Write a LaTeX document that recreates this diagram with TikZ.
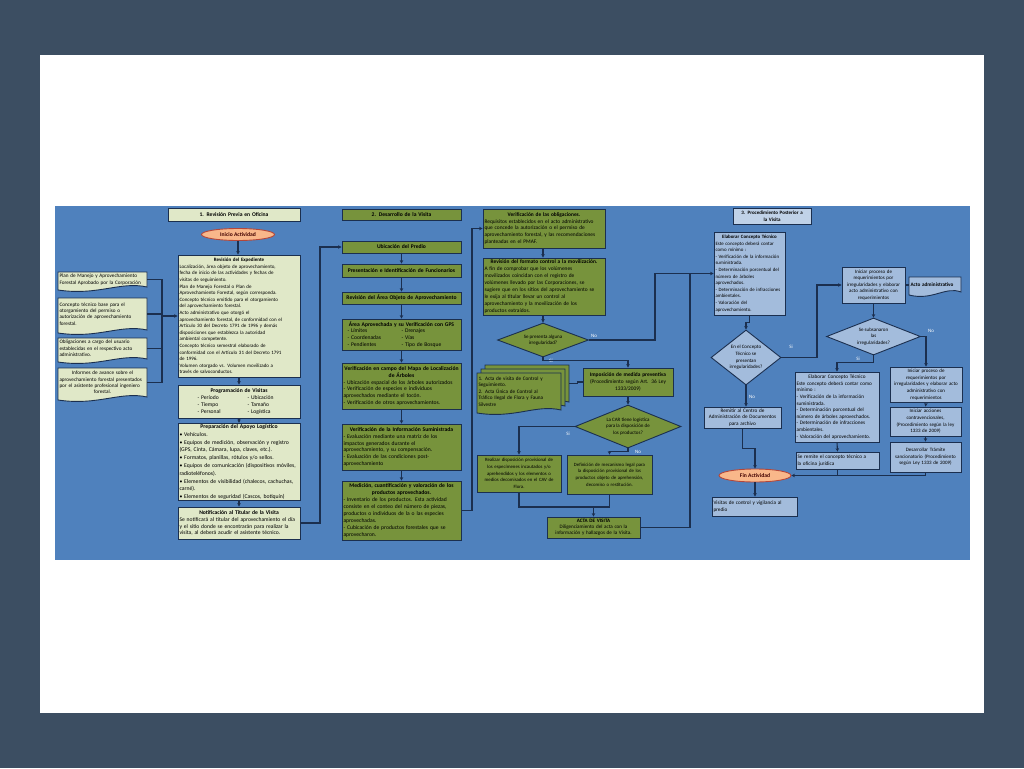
\documentclass[tikz,border=0pt]{standalone}
\usepackage{fontspec}
\setmainfont{Carlito}
\usetikzlibrary{shapes.geometric,arrows.meta,calc}
\hyphenpenalty=10000
\exhyphenpenalty=10000
\definecolor{outerc}{HTML}{3C4E62}
\definecolor{bluec}{HTML}{4F81BD}
\definecolor{palec}{HTML}{E0E8C8}
\definecolor{olivec}{HTML}{77933C}
\definecolor{lbluec}{HTML}{A3BCDC}
\definecolor{hbluec}{HTML}{C0D2E8}
\definecolor{peachc}{HTML}{F9B78A}
\definecolor{lnc}{HTML}{1B2F4F}
\definecolor{ellc}{HTML}{B4473A}
\newcommand\fsa{\fontsize{5.6}{6.9}\selectfont}
\newcommand\fsr{\fontsize{5}{6.6}\selectfont}
\newcommand\fsp{\fontsize{5.7}{7.8}\selectfont}
\newcommand\fst{\fontsize{5.4}{6.9}\selectfont}
\newcommand\fsb{\fontsize{5.0}{6.6}\selectfont}
\newcommand\fsd{\fontsize{5.2}{6.4}\selectfont}
\newcommand\fse{\fontsize{5.2}{6.6}\selectfont}
\newcommand\fsk{\fontsize{4.9}{6.6}\selectfont}
\newcommand\fsi{\fontsize{5.4}{6.8}\selectfont}
\newcommand\fsm{\fontsize{4.8}{6.6}\selectfont}
\newcommand\fsc{\fontsize{5.1}{6.1}\selectfont}
\newcommand\ctr[1]{\noindent\hbox to \hsize{\hfil\bfseries #1\hfil}}
\newcommand\ctrn[1]{\noindent\hbox to \hsize{\hfil #1\hfil}}
\newcommand\mkbox[7]{%
 \pgfmathsetmacro\mybw{#5-#3}\pgfmathsetmacro\mybh{#6-#4}\pgfmathsetmacro\mytw{#5-#3-3}%
 \pgfmathsetmacro\mycx{(#3+#5)/2}\pgfmathsetmacro\mycy{(#4+#6)/2}%
 \node[#2, minimum width=\mybw pt, minimum height=\mybh pt, text width=\mytw pt] (#1) at (\mycx,\mycy) {#7};}
\newcommand\mkdoc[7]{%
 \pgfmathsetmacro\mydw{#5-#3}%
 \pgfmathsetmacro\mydA{#5-0.3*\mydw}\pgfmathsetmacro\mydB{#3+0.45*\mydw}%
 \pgfmathsetmacro\mydy{#6-3}\pgfmathsetmacro\mydyA{#6-9}\pgfmathsetmacro\mydyB{#6+6}%
 \path[fill=#2, draw=lnc, line width=0.9pt] (#3,#4) -- (#5,#4) -- (#5,\mydy) .. controls (\mydA,\mydyA) and (\mydB,\mydyB) .. (#3,#6) -- cycle;
 \mkbox{#1}{docx}{#3}{#4}{#5}{\mydy}{#7}}
\begin{document}
\begin{tikzpicture}[x=1pt,y=-1pt,
 bx/.style={draw=lnc, line width=0.9pt, inner xsep=1.5pt, inner ysep=1pt, align=left, text=black},
 pale/.style={bx, fill=palec, font=\fsa},
 olive/.style={bx, fill=olivec, font=\fsa},
 lblue/.style={bx, fill=lbluec, font=\fsb},
 txt/.style={inner sep=0, align=center, font=\fsb},
 docx/.style={inner xsep=1.5pt, inner ysep=0.5pt, align=left, font=\fsd},
 ln/.style={draw=lnc, line width=1.1pt},
 arr/.style={ln, -{Stealth[length=3.5pt,width=3.5pt]}},
 lbl/.style={font=\fsb, text=white, inner sep=0},
 dia/.style={diamond, draw=lnc, line width=0.9pt, inner sep=0},
 ell/.style={ellipse, draw=ellc, line width=0.9pt, fill=peachc, inner sep=0, font=\fsa\bfseries, text=black!75!red}]
\useasboundingbox (0,0) rectangle (1024,768);
\fill[outerc] (0,0) rectangle (1024,768);
\fill[white] (40,55) rectangle (984,713);
\fill[bluec] (55,206) rectangle (970,560);

% ---------- column 1
\mkbox{h1}{pale, font=\fsa\bfseries, align=center}{168}{208}{300}{221}{1. Revisión Previa en Oficina}
\node[ell, minimum width=73pt, minimum height=12pt] (ini) at (238,234.5) {Inicio Actividad};
\mkbox{rev}{pale, font=\fsr}{178}{255}{300}{377}{\ctr{Revisión del Expediente}\\
Localización, área objeto de aprovechamiento,\\
fecha de inicio de las actividades y fechas de\\
visitas de seguimiento.\\
Plan de Manejo Forestal o Plan de\\
Aprovechamiento Forestal, según corresponda.\\
Concepto técnico emitido para el otorgamiento\\
del aprovechamiento forestal.\\
Acto administrativo que otorgó el\\
aprovechamiento forestal,  de conformidad con el\\
Artículo 30 del Decreto 1791 de 1996 y demás\\
disposiciones que establezca la autoridad\\
ambiental competente.\\
Concepto técnico semestral elaborado de\\
conformidad con el Artículo 31 del Decreto 1791\\
de 1996.\\
Volumen otorgado vs. Volumen movilizado a\\
través de salvoconductos.}
\mkbox{prog}{pale}{178}{385}{300}{418}{\ctr{Programación de Visitas}\\
\hspace*{18pt}\makebox[50pt][l]{- Período}- Ubicación\\
\hspace*{18pt}\makebox[50pt][l]{- Tiempo}- Tamaño\\
\hspace*{18pt}\makebox[50pt][l]{- Personal}- Logística}
\mkbox{prep}{pale, font=\fsp}{178}{425}{300}{499}{\ctr{Preparación del Apoyo Logístico}\\
• Vehículos.\\
• Equipos de medición, observación y registro\\
(GPS, Cinta, Cámara, lupa, claves, etc.).\\
• Formatos, planillas, rótulos y/o sellos.\\
• Equipos de comunicación  (dispositivos móviles,\\
radioteléfonos).\\
• Elementos de visibilidad (chalecos, cachuchas,\\
carné).\\
• Elementos de seguridad (Cascos, botiquín)}
\mkbox{noti}{pale}{178}{507}{300}{539}{\ctr{Notificación al Titular de la Visita}\\
Se notificará al titular del aprovechamiento el día\\
y el sitio donde se encontrarán para realizar la\\
visita, al deberá acudir el asistente técnico.}

\mkdoc{doc1}{palec}{58}{272}{147}{290}{Plan de Manejo y Aprovechamiento\\Forestal Aprobado por la Corporación}
\mkdoc{doc2}{palec}{58}{298}{147}{333}{Concepto técnico base para el\\otorgamiento del permiso o\\autorización de aprovechamiento\\forestal.}
\mkdoc{doc3}{palec}{58}{338}{147}{362}{Obligaciones a cargo del usuario\\establecidas en el respectivo acto\\administrativo.}
\mkdoc{doc4}{palec}{58}{368}{147}{400}{\ctrn{Informes de avance sobre el}\\aprovechamiento forestal presentados\\por el asistente profesional ingeniero\\\ctrn{forestal.}}

% ---------- column 2
\mkbox{h2}{olive, font=\fsa\bfseries, align=center}{342}{209}{461}{220}{2. Desarrollo de la Visita}
\mkbox{ubi}{olive, font=\fsa\bfseries, align=center}{342}{241}{461}{253}{Ubicación del Predio}
\mkbox{pres}{olive, font=\fsa\bfseries, align=center}{342}{264}{461}{277}{Presentación e Identificación de Funcionarios}
\mkbox{rva}{olive, font=\fsa\bfseries, align=center}{342}{292}{461}{304}{Revisión del Área Objeto de Aprovechamiento}
\mkbox{area}{olive}{342}{319}{461}{350}{\ctr{Área Aprovechada y su Verificación con GPS}\\
\hspace*{4pt}\makebox[54pt][l]{- Límites}- Drenajes\\
\hspace*{4pt}\makebox[54pt][l]{- Coordenadas}- Vías\\
\hspace*{4pt}\makebox[54pt][l]{- Pendientes}- Tipo de Bosque}
\mkbox{vmap}{olive}{342}{363}{461}{409}{\ctr{Verificación en campo del Mapa de Localización}\\
\ctr{de Árboles}\\
- Ubicación espacial de los árboles autorizados\\
- Verificación de especies e individuos\\
aprovechados mediante el tocón.\\
- Verificación de otros aprovechamientos.}
\mkbox{vinf}{olive}{342}{424}{461}{470}{\ctr{Verificación de la Información Suministrada}\\
- Evaluación mediante una matriz de  los\\
impactos generados durante el\\
aprovechamiento, y su compensación.\\
- Evaluación de las condiciones post-\\
aprovechamiento}
\mkbox{med}{olive}{342}{481}{461}{540}{\ctr{Medición, cuantificación y valoración de los}\\
\ctr{productos aprovechados.}\\
- Inventario de los productos. Esta actividad\\
consiste en el conteo del número de piezas,\\
productos o individuos de la o las especies\\
aprovechadas.\\
- Cubicación de productos forestales que se\\
aprovecharon.}

% ---------- column 3
\mkbox{obl}{olive, font=\fst}{483}{209}{605}{248}{\ctr{Verificación de las obligaciones.}\\
Requisitos establecidos en el acto administrativo\\
que concede la autorización o el permiso de\\
aprovechamiento forestal,  y las recomendaciones\\
planteadas en el PMAF.}
\mkbox{form}{olive, font=\fst}{483}{258}{605}{315}{\ctr{Revisión del formato control a la movilización.}\\
A fin de comprobar que los volúmenes\\
movilizados coincidan con el registro de\\
volúmenes llevado por las Corporaciones, se\\
sugiere que en los sitios del aprovechamiento se\\
le exija al titular llevar un control al\\
aprovechamiento y la movilización de los\\
productos extraídos.}
\node[dia, fill=olivec, minimum width=91pt, minimum height=34pt] (d1) at (543,340) {};
\node[txt] (d1t) at (d1.center) {Se presenta alguna\\irregularidad?};

\mkdoc{stkb}{olivec}{485}{365}{569}{405}{}
\mkdoc{stkm}{olivec}{481}{369}{565}{409}{}
\mkdoc{stk}{olivec}{477}{373}{561}{413}{1. Acta de visita de Control y\\Seguimiento.\\2. Acta Única de Control al\\Tráfico Ilegal de Flora y Fauna\\Silvestre}
\mkbox{imp}{olive, align=center, font=\fsi}{583}{368}{673}{396}{\textbf{Imposición de medida preventiva}\\(Procedimiento según Art. 36 Ley\\1333/2009)}
\node[dia, fill=olivec, minimum width=106pt, minimum height=43pt] (d2) at (628,426.5) {};
\node[txt] (d2t) at (d2.center) {La CAR  tiene logística\\para la  disposición de\\los productos?};
\mkbox{real}{olive, align=center, font=\fsm}{477}{455}{561}{492}{Realizar disposición provisional de\\los especímenes incautados y/o\\aprehendidos y los elementos o\\medios decomisados en el CAV de\\Flora.}
\mkbox{def}{olive, align=center, font=\fsm}{567}{455}{652}{494}{Definición de mecanismo legal para\\la disposición provisional de los\\productos objeto de aprehensión,\\decomiso o restitución.}
\mkbox{acta}{olive, align=center, font=\fsc}{547}{517}{640}{538}{\textbf{ACTA DE VISITA}\\Diligenciamiento del acta con la\\información y hallazgos de la Visita.}

% ---------- column 4
\mkbox{h3}{bx, fill=hbluec, font=\fsb\bfseries, align=center}{733}{208}{811}{224}{3. Procedimiento Posterior a\\la Visita}
\mkbox{ela}{lblue, font=\fsk}{714}{232}{785}{315}{\ctr{Elaborar Concepto Técnico}\\
Este concepto deberá contar\\
como mínimo :\\
- Verificación de la información\\
suministrada.\\
- Determinación porcentual del\\
número de árboles\\
aprovechados.\\
- Determinación de infracciones\\
ambientales.\\
- Valoración del\\
aprovechamiento.}
\node[dia, fill=lbluec, minimum width=70pt, minimum height=55pt] (d3) at (746,357.5) {};
\node[txt] (d3t) at (d3.center) {En el Concepto\\Técnico se\\presentan\\irregularidades?};
\mkbox{rem}{lblue, align=center, font=\fse}{704}{407}{781}{428}{Remitir al Centro de\\Administración de Documentos\\para archivo}
\node[ell, minimum width=72pt, minimum height=13pt] (fin) at (755,475.5) {Fin Actividad};
\mkbox{vis}{lblue, font=\fse}{712}{497}{797}{516}{Visitas de control y vigilancia al\\predio}

% ---------- column 5
\mkbox{ini1}{lblue, align=center}{842}{267}{905}{303}{Iniciar proceso de\\requerimientos  por\\irregularidades y elaborar\\acto administrativo  con\\requerimientos}
\mkdoc{acto}{lbluec}{909}{277}{961}{295}{\textbf{Acto administrativo}}
\node[dia, fill=lbluec, minimum width=94pt, minimum height=37pt] (d4) at (873.5,336.5) {};
\node[txt] (d4t) at (d4.center) {Se subsanaron\\las\\irregularidades?};
\mkbox{ela2}{lblue, font=\fse}{795}{372}{879}{442}{\ctr{\mdseries Elaborar Concepto Técnico}\\
Este concepto deberá contar como\\
mínimo :\\
- Verificación de la información\\
suministrada.\\
- Determinación porcentual del\\
número de árboles aprovechados.\\
- Determinación de infracciones\\
ambientales.\\
- Valoración del aprovechamiento.}
\mkbox{sere}{lblue, font=\fse}{796}{452}{879}{469}{Se remite el concepto técnico a\\la oficina jurídica}
\mkbox{ini2}{lblue, align=center}{890}{367}{962}{402}{Iniciar proceso de\\requerimientos  por\\irregularidades y elaborar acto\\administrativo  con\\requerimientos}
\mkbox{acc}{lblue, align=center}{890}{407}{961}{436}{Iniciar acciones\\contravencionales,\\(Procedimiento según la ley\\1333 de 2009)}
\mkbox{des}{lblue, align=center}{890}{442}{961}{472}{Desarrollar Trámite\\sancionatorio (Procedimiento\\según Ley 1333 de 2009)}

% ---------- labels
\node[lbl] (l1) at (594,336) {No};
\node[lbl] (l2) at (551,361) {Si};
\node[lbl] (l3) at (568,434) {Si};
\node[lbl] (l4) at (638,452) {No};
\node[lbl] (l5) at (791,347) {Si};
\node[lbl] (l6) at (752,397) {No};
\node[lbl] (l7) at (858,359) {Si};
\node[lbl] (l8) at (931,331) {No};

% ---------- connectors
\coordinate (busx) at (162,300);
\draw[ln] (doc1.east) -- (doc1.east -| busx) -- (doc4.east -| busx) -- (doc4.east);
\draw[ln] (doc2.east) -- (doc2.east -| busx);
\draw[ln] (doc3.east) -- (doc3.east -| busx);
\draw[arr] (busx |- rev.west) -- (rev.west);
\draw[arr] (ini.south) -- (ini.south |- rev.north);
\draw[arr] (rev.south) -- (prog.north);
\draw[arr] (prog.south) -- (prep.north);
\draw[arr] (prep.south) -- (noti.north);
\coordinate (lx) at (320,300);
\draw[arr] (noti.east) -- (noti.east -| lx) |- (ubi.west);
\draw[arr] (ubi.south) -- (pres.north);
\draw[arr] (pres.south) -- (rva.north);
\draw[arr] (rva.south) -- (area.north);
\draw[arr] (area.south) -- (vmap.north);
\draw[arr] (vmap.south) -- (vinf.north);
\draw[arr] (vinf.south) -- (med.north);
\coordinate (rx) at (472,300);
\draw[arr] (med.east) -- (med.east -| rx) |- (obl.west);
\draw[arr] (obl.south -| d1.north) -- (d1.north |- form.north);
\draw[arr] (form.south -| d1.north) -- (d1.north);
\coordinate (nx) at (655,300);
\draw[arr] (d1.east) -- (d1.east -| nx) |- (ela.west);
\coordinate (ax) at (690,300);
\draw[ln] (acta.east) -- (acta.east -| ax) -- (ax |- ela.west);
\draw[arr] (d1.south) -- ++(0,3) -| (imp.north);
\draw[ln] (stkb.east) -- ++(8,0) |- (imp.west);
\draw[arr] (imp.south) -- (d2.north);
\draw[arr] (d2.west) -| (real.north);
\draw[arr] (d2.south) -- ++(0,3) -| (def.north);
\coordinate (jy) at (600,507);
\draw[ln] (real.south) -- (real.south |- jy) -- (def.south |- jy) -- (def.south);
\draw[arr] (acta.north |- jy) -- (acta.north);
\draw[arr] (ela.south) -- ++(0,7) -| (d3.north);
\coordinate (sx) at (817,300);
\draw[arr] (d3.east) -- (d3.east -| sx) |- (ini1.west);
\draw[arr] (d3.south) -- (d3.south |- rem.north);
\draw[arr] (rem.south) -- ++(0,20) -| (fin.north);
\draw[arr] (fin.south) -- (fin.south |- vis.north);
\draw[ln] (ini1.east) -- (ini1.east -| acto.west);
\draw[arr] (ini1.south) -- (d4.north);
\draw[arr] (d4.south) -- ++(0,7) -| (ela2.north);
\draw[arr] (d4.east) -| (ini2.north);
\draw[arr] (ini2.south) -- (acc.north);
\draw[arr] (acc.south) -- (des.north);
\draw[arr] (ela2.south) -- (sere.north);
\draw[ln] (sere.south) -- (sere.south |- fin.east);
\draw[arr] (des.south) -- (des.south |- fin.east) -- (fin.east);
\end{tikzpicture}
\end{document}
